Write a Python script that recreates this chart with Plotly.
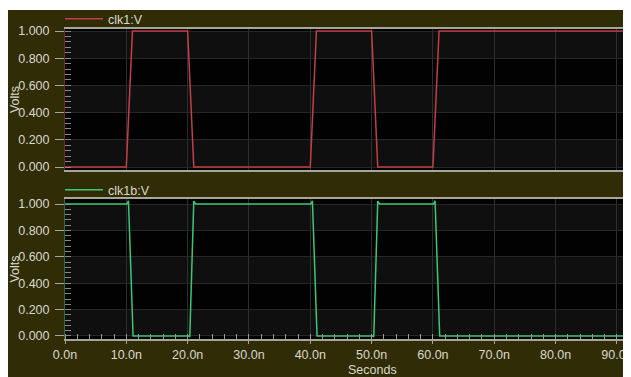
import plotly.graph_objects as go

# ---- data (time in ns, voltage in V) ----
clk1_t = [0, 10, 11, 20, 21, 40, 41, 50, 51, 60, 61, 92.3]
clk1_v = [0, 0, 1, 1, 0, 0, 1, 1, 0, 0, 1, 1]

clk1b_t = [0, 10.1, 10.35, 11.1, 11.4, 20.15, 20.35, 21.0, 21.3,
           40.1, 40.35, 41.1, 41.4, 50.15, 50.35, 51.0, 51.3,
           60.1, 60.35, 61.1, 61.4, 92.3]
clk1b_v = [1.0, 1.0, 1.025, 0.0, 0.0, 0.0, -0.006, 1.022, 1.0,
           1.0, 1.025, 0.0, 0.0, 0.0, -0.006, 1.022, 1.0,
           1.0, 1.025, 0.0, 0.0, 0.0]

x_tickvals = [0, 10, 20, 30, 40, 50, 60, 70, 80, 90]
x_ticktext = ["0.0n", "10.0n", "20.0n", "30.0n", "40.0n", "50.0n", "60.0n", "70.0n", "80.0n", "90.0n"]
y_tickvals = [0.0, 0.2, 0.4, 0.6, 0.8, 1.0]
band_edges = [(0.0, 0.2), (0.4, 0.6), (0.8, 1.0)]

OFF = 8                      # page body margin
W, H = 631 - OFF, 377 - OFF
L, R, T, B = 57, 0, 21, 38
PW, PH = W - L - R, H - T - B

def px_x(p):                 # page pixel -> paper x
    return (p - OFF - L) / PW

def px_y(p):                 # page pixel -> paper y
    return (H - B - (p - OFF)) / PH

OLIVE = "#302c06"
TXT = "#d8d8cc"
RED = "#c23f47"
GREEN = "#3ec676"
FONT = "Liberation Sans, Arial, sans-serif"

fig = go.Figure()
fig.add_trace(go.Scatter(x=clk1_t, y=clk1_v, mode="lines", name="clk1:V",
                         line=dict(color=RED, width=1.5), xaxis="x", yaxis="y",
                         legend="legend"))
fig.add_trace(go.Scatter(x=clk1b_t, y=clk1b_v, mode="lines", name="clk1b:V",
                         line=dict(color=GREEN, width=1.5), xaxis="x2", yaxis="y2",
                         legend="legend2"))

common_x = dict(range=[0, 92.3], tickvals=x_tickvals, ticktext=x_ticktext,
                showgrid=True, gridcolor="#2e2e2e", gridwidth=1, zeroline=False,
                showline=True, mirror=True, linecolor="#a6a69c", linewidth=2)

common_y = dict(tickvals=y_tickvals, tickformat=".3f", showgrid=True, gridcolor="#262626",
                zeroline=False, ticks="outside", ticklen=9, tickcolor="#a6a69c",
                ticklabelstandoff=3, tickfont=dict(size=12.5, color=TXT),
                minor=dict(ticks="inside", dtick=0.04, ticklen=6, tickcolor="#8a8a82", showgrid=False),
                title=dict(text="Volts", standoff=0, font=dict(size=12.5, color=TXT)))

fig.update_layout(
    width=W, height=H,
    margin=dict(l=L, r=R, t=T, b=B, autoexpand=False),
    paper_bgcolor=OLIVE, plot_bgcolor="#020202",
    font=dict(family=FONT, size=12.5, color=TXT),
    xaxis=dict(**common_x, anchor="y", showticklabels=False, ticks=""),
    xaxis2=dict(**common_x, anchor="y2", ticks="outside", ticklen=3, tickcolor="#a6a69c",
                tickfont=dict(size=12.5, color=TXT), ticklabeloverflow="allow",
                minor=dict(ticks="inside", dtick=2, ticklen=5, tickcolor="#9a9a90", showgrid=False)),
    yaxis=dict(**common_y, domain=[0.5452, 1.0], range=[-0.022, 1.015],
               showline=True, linecolor="#6b2a2e", linewidth=1),
    yaxis2=dict(**common_y, domain=[0.0, 0.4516], range=[-0.023, 1.038],
                showline=True, linecolor="#2a6b45", linewidth=1),
    legend=dict(x=px_x(60), y=px_y(19), xanchor="left", yanchor="middle", itemwidth=38,
                bgcolor="rgba(0,0,0,0)", font=dict(size=12.5, color=TXT)),
    legend2=dict(x=px_x(60), y=px_y(190), xanchor="left", yanchor="middle", itemwidth=38,
                 bgcolor="rgba(0,0,0,0)", font=dict(size=12.5, color=TXT)),
    showlegend=True,
)

# alternating background bands
shapes = []
for yref in ("y", "y2"):
    for lo, hi in band_edges:
        shapes.append(dict(type="rect", xref="x domain" if yref == "y" else "x2 domain",
                           yref=yref, x0=0, x1=1, y0=lo, y1=hi,
                           fillcolor="#0f0f0f", line=dict(width=0), layer="below"))
# white top strip of the screenshot
shapes.append(dict(type="rect", xref="paper", yref="paper", x0=px_x(0), x1=px_x(640),
                   y0=px_y(10), y1=px_y(0), fillcolor="white", line=dict(width=0)))
fig.update_layout(shapes=shapes)

fig.add_annotation(text="Seconds", xref="paper", yref="paper", x=px_x(372), y=px_y(370),
                   showarrow=False, font=dict(size=12.5, color=TXT), xanchor="center", yanchor="middle")

fig.write_html("out.html")
